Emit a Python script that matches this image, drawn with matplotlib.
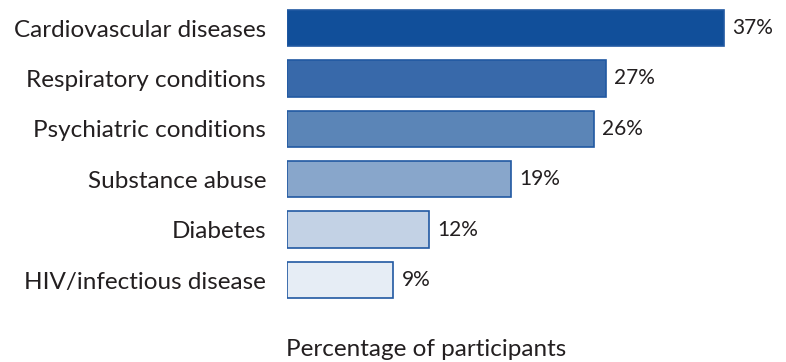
import matplotlib
matplotlib.use("Agg")
import matplotlib.pyplot as plt

# Conditions reported by participants (percent)
conditions = ["Cardiovascular diseases", "Respiratory conditions", "Psychiatric conditions",
              "Substance abuse", "Diabetes", "HIV/infectious disease"]
percent = [37, 27, 26, 19, 12, 9]
fills = ["#114F9A", "#3869AA", "#5B85B7", "#88A6CB", "#C3D2E5", "#E6EDF5"]

plt.rcParams["font.family"] = ["Lato", "DejaVu Sans"]
text_color = "#231F20"

fig = plt.figure(figsize=(7.86, 3.62), dpi=100)
ax = fig.add_axes([287 / 786, 1 - 305.2 / 362, 1 - 287 / 786, 302.4 / 362])

ypos = list(range(len(conditions)))
ax.barh(ypos, percent, height=0.72, color=fills, edgecolor="#2159A2", linewidth=1.2)

for y, v in zip(ypos, percent):
    ax.text(v + 0.7, y, f"{v}%", va="center", ha="left", fontsize=15, color=text_color)

ax.set_xlim(0, 499 / 11.81)
ax.set_ylim(5.5, -0.5)
ax.set_yticks(ypos)
ax.set_yticklabels(conditions, fontsize=17.5, color=text_color)
ax.tick_params(axis="y", length=0, pad=15)
ax.set_xticks([])
for s in ax.spines.values():
    s.set_visible(False)

fig.text(426 / 786, 1 - 350 / 362, "Percentage of participants", ha="center", va="center",
         fontsize=17.5, color=text_color)

fig.savefig("out.png", dpi=100)
